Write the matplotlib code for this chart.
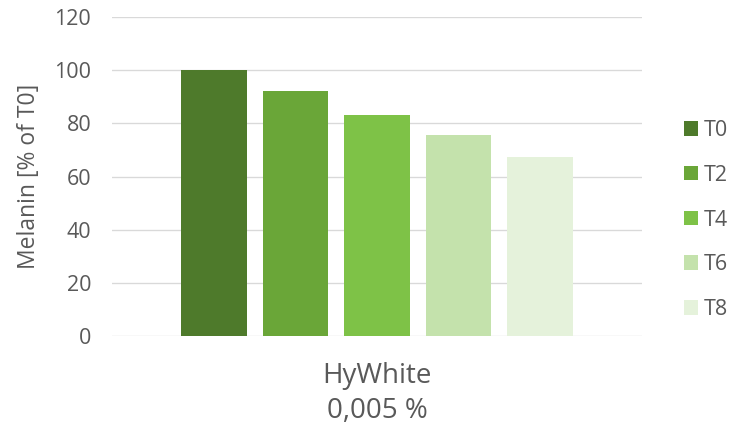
import matplotlib
matplotlib.use("Agg")
import matplotlib.pyplot as plt
from matplotlib.patches import Patch

# data
series = ["T0", "T2", "T4", "T6", "T8"]
values = [100, 92.2, 83.1, 75.6, 67.3]
colors = ["#4e7a2b", "#6aa638", "#7ec247", "#c4e2ac", "#e5f2db"]
category = "HyWhite\n0,005 %"
yticks = [0, 20, 40, 60, 80, 100, 120]

text_color = "#595959"
grid_color = "#d9d9d9"
plt.rcParams["font.family"] = ["Open Sans", "DejaVu Sans"]

fig = plt.figure(figsize=(7.4, 4.32), dpi=100)
ax = fig.add_axes([0.1514, 0.2222, 0.7162, 0.7384])

x = list(range(len(series)))
ax.bar(x, values, width=0.8, color=colors, zorder=3)

ax.set_xlim(-1.25, 5.25)
ax.set_ylim(0, 120)
ax.set_yticks(yticks)
ax.set_yticklabels([str(t) for t in yticks])
ax.set_xticks([2])
ax.set_xticklabels([category], linespacing=1.3)

# gridlines, no frame
ax.yaxis.grid(True, color=grid_color, linewidth=0.95, zorder=0)
for s in ax.spines.values():
    s.set_visible(False)
ax.tick_params(axis="y", length=0, pad=15, labelsize=15.5, labelcolor=text_color)
ax.tick_params(axis="x", length=0, pad=19, labelsize=20, labelcolor=text_color)

ax.set_ylabel("Melanin [% of T0]", fontsize=16.5, color=text_color)
ax.yaxis.set_label_coords(-0.134, 0.5)

# legend on the right
handles = [Patch(facecolor=c, edgecolor="none", label=s) for s, c in zip(series, colors)]
fig.legend(handles=handles, loc="center left", bbox_to_anchor=(684 / 740, 0.4907),
           frameon=False, fontsize=15.5, labelcolor=text_color,
           handlelength=0.65, handleheight=0.65, handletextpad=0.25,
           labelspacing=1.1, borderpad=0, borderaxespad=0)

fig.savefig("out.png", dpi=100)
